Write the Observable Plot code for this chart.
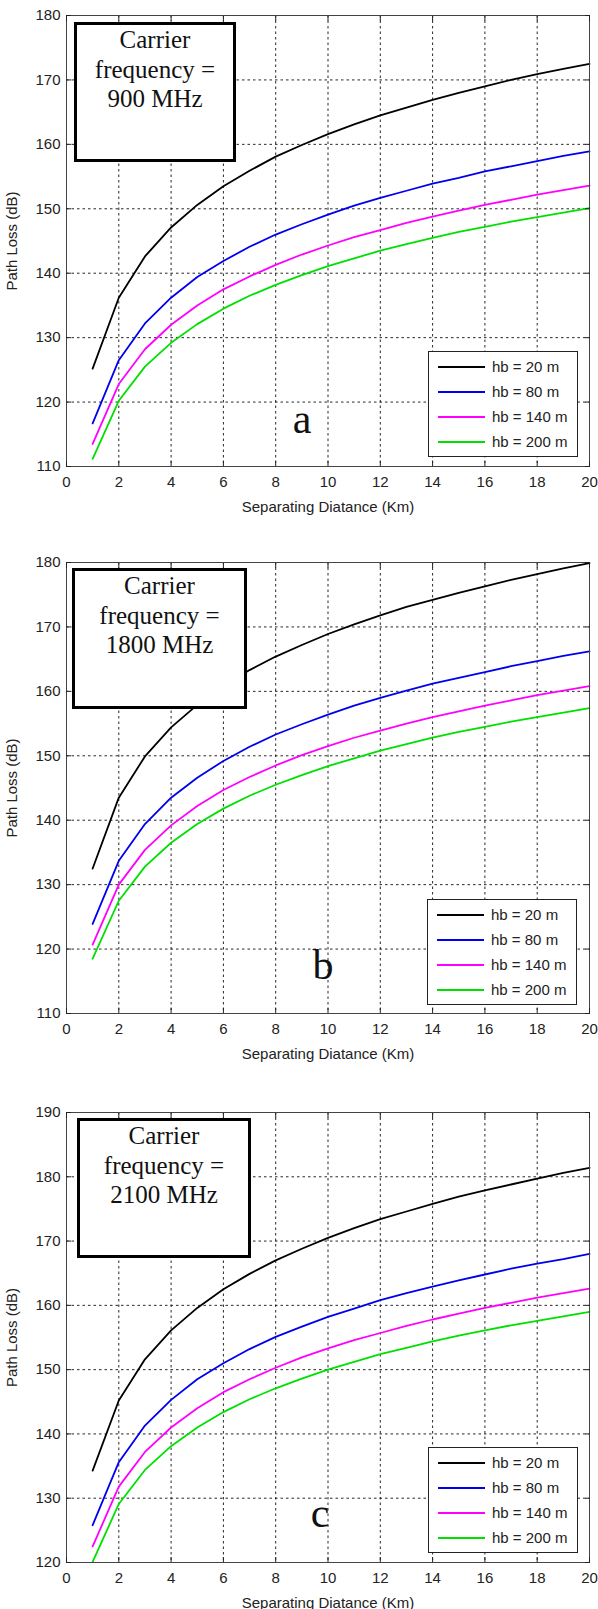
<!DOCTYPE html>
<html><head><meta charset="utf-8">
<script src="https://cdn.jsdelivr.net/npm/d3@7"></script>
<script src="https://cdn.jsdelivr.net/npm/@observablehq/plot@0.6"></script>
<style>
body{margin:0;background:#fff;}
#wrap{position:relative;width:598px;height:1609px;overflow:hidden;background:#fff;}
.panel{position:absolute;left:0;}
.panel svg{overflow:visible;}
.cbox{position:absolute;border:3px solid #000;background:#fff;box-sizing:border-box;font-family:"Liberation Serif","Times New Roman",serif;font-size:25px;line-height:29.5px;text-align:center;color:#111;}
.leg{position:absolute;border:1px solid #222;background:#fff;box-sizing:border-box;font-family:"Liberation Sans",Arial,sans-serif;font-size:15px;color:#222;width:150px;height:106px;}
.leg .row{position:absolute;left:0;width:150px;height:0;}
.leg .sw{position:absolute;left:9px;width:47px;height:2px;top:-1px;}
.leg .lt{position:absolute;left:63px;top:-9px;line-height:18px;white-space:nowrap;}
.tag{position:absolute;font-family:"Liberation Serif","Times New Roman",serif;font-size:42px;line-height:42px;color:#111;transform:translateX(-50%);}
</style>
</head><body><div id="wrap"></div>
<script>
// ---- data ----
const distanceKm = [1,2,3,4,5,6,7,8,9,10,11,12,13,14,15,16,17,18,19,20];
const heightLabels = ["hb = 20 m","hb = 80 m","hb = 140 m","hb = 200 m"];
const lineColors = ["#000000","#0000ee","#ff00ff","#00e000"];
const xTicks = [0,2,4,6,8,10,12,14,16,18,20];
const yTicksAB = [110,120,130,140,150,160,170,180];
const yTicksC = [120,130,140,150,160,170,180,190];
const frequencies = ["900 MHz","1800 MHz","2100 MHz"];
const panelTags = ["a","b","c"];

// 900 MHz
const pl900_hb20  = [125.2,136.2,142.6,147.1,150.6,153.5,155.9,158.1,159.9,161.6,163.1,164.5,165.7,166.9,168.0,169.0,170.0,170.9,171.7,172.5];
const pl900_hb80  = [116.7,126.5,132.2,136.2,139.4,141.9,144.1,146.0,147.6,149.1,150.5,151.7,152.8,153.9,154.8,155.8,156.6,157.4,158.2,158.9];
const pl900_hb140 = [113.5,122.8,128.2,132.0,135.0,137.5,139.5,141.3,142.9,144.3,145.6,146.7,147.8,148.8,149.7,150.6,151.4,152.2,152.9,153.6];
const pl900_hb200 = [111.2,120.2,125.5,129.2,132.1,134.5,136.5,138.2,139.7,141.1,142.3,143.5,144.5,145.5,146.4,147.2,148.0,148.7,149.4,150.1];
// 1800 MHz
const pl1800_hb20  = [132.5,143.5,149.9,154.4,157.9,160.8,163.3,165.4,167.2,168.9,170.4,171.8,173.1,174.2,175.3,176.3,177.3,178.2,179.1,179.9];
const pl1800_hb80  = [123.9,133.7,139.4,143.5,146.6,149.2,151.4,153.3,154.9,156.4,157.8,159.0,160.1,161.2,162.1,163.0,163.9,164.7,165.5,166.2];
const pl1800_hb140 = [120.7,130.0,135.4,139.2,142.2,144.7,146.7,148.5,150.1,151.5,152.8,153.9,155.0,156.0,156.9,157.8,158.6,159.4,160.1,160.8];
const pl1800_hb200 = [118.5,127.5,132.8,136.5,139.4,141.8,143.8,145.5,147.0,148.4,149.6,150.8,151.8,152.8,153.7,154.5,155.3,156.0,156.7,157.4];
// 2100 MHz
const pl2100_hb20  = [134.3,145.2,151.6,156.1,159.6,162.5,164.9,167.0,168.8,170.5,172.0,173.4,174.6,175.8,176.9,177.9,178.8,179.7,180.6,181.4];
const pl2100_hb80  = [125.8,135.6,141.3,145.3,148.5,151.0,153.2,155.1,156.7,158.2,159.5,160.8,161.9,162.9,163.9,164.8,165.7,166.5,167.2,168.0];
const pl2100_hb140 = [122.5,131.8,137.2,141.0,144.0,146.5,148.5,150.3,151.9,153.3,154.6,155.7,156.8,157.8,158.7,159.6,160.4,161.2,161.9,162.6];
const pl2100_hb200 = [120.1,129.1,134.4,138.1,141.0,143.4,145.4,147.1,148.6,150.0,151.2,152.4,153.4,154.4,155.3,156.1,156.9,157.6,158.3,159.0];

// ---- layout ----
const panels = [
  {series:[pl900_hb20,pl900_hb80,pl900_hb140,pl900_hb200], yDomain:[110,180], yTicks:yTicksAB,
   top:0, height:520, mt:15, mb:54,
   box:{left:74,top:22,width:162,height:140}, leg:{left:428,top:351}, tag:{x:302,top:398}},
  {series:[pl1800_hb20,pl1800_hb80,pl1800_hb140,pl1800_hb200], yDomain:[110,180], yTicks:yTicksAB,
   top:520, height:540, mt:42, mb:47,
   box:{left:72,top:568,width:175,height:141}, leg:{left:427,top:899}, tag:{x:323,top:944}},
  {series:[pl2100_hb20,pl2100_hb80,pl2100_hb140,pl2100_hb200], yDomain:[120,190], yTicks:yTicksC,
   top:1060, height:549, mt:52, mb:47,
   box:{left:77,top:1118,width:174,height:140}, leg:{left:428,top:1447}, tag:{x:320,top:1492}}
];

const wrap = document.getElementById("wrap");

panels.forEach((p, k) => {
  const rows = [];
  p.series.forEach((vals, i) => vals.forEach((v, j) => rows.push({d: distanceKm[j], pl: v, hb: heightLabels[i]})));
  const chart = Plot.plot({
    width: 598, height: p.height,
    marginLeft: 66, marginRight: 9, marginTop: p.mt, marginBottom: p.mb,
    style: {fontFamily: "'Liberation Sans', Arial, sans-serif", fontSize: "15px", color: "#222", background: "transparent", overflow: "visible"},
    x: {domain: [0, 20]},
    y: {domain: p.yDomain},
    color: {domain: heightLabels, range: lineColors},
    marks: [
      Plot.gridX(xTicks, {stroke: "#000", strokeOpacity: 0.85, strokeDasharray: "2.5,3"}),
      Plot.gridY(p.yTicks, {stroke: "#000", strokeOpacity: 0.85, strokeDasharray: "2.5,3"}),
      Plot.line(rows, {x: "d", y: "pl", z: "hb", stroke: "hb", strokeWidth: 1.8}),
      Plot.frame({stroke: "#444"}),
      Plot.axisX({ticks: xTicks, tickSize: -5, tickPadding: 15, label: "Separating Diatance (Km)", labelAnchor: "center", labelOffset: 45, labelArrow: "none"}),
      Plot.axisY({ticks: p.yTicks, tickSize: -5, tickPadding: 11, label: "Path Loss (dB)", labelAnchor: "center", labelOffset: 60, labelArrow: "none"}),
      Plot.axisX({anchor: "top", ticks: xTicks, tickSize: -5, tickFormat: () => "", label: null}),
      Plot.axisY({anchor: "right", ticks: p.yTicks, tickSize: -5, tickFormat: () => "", label: null})
    ]
  });
  const holder = document.createElement("div");
  holder.className = "panel";
  holder.style.top = p.top + "px";
  holder.appendChild(chart);
  wrap.appendChild(holder);

  // carrier frequency box
  const box = document.createElement("div");
  box.className = "cbox";
  Object.assign(box.style, {left: p.box.left + "px", top: p.box.top + "px", width: p.box.width + "px", height: p.box.height + "px"});
  box.innerHTML = "Carrier<br>frequency =<br>" + frequencies[k];
  wrap.appendChild(box);

  // legend
  const leg = document.createElement("div");
  leg.className = "leg";
  leg.style.left = p.leg.left + "px";
  leg.style.top = p.leg.top + "px";
  heightLabels.forEach((lab, i) => {
    const r = document.createElement("div");
    r.className = "row";
    r.style.top = (15 + 25 * i) + "px";
    const sw = document.createElement("div");
    sw.className = "sw";
    sw.style.background = lineColors[i];
    const t = document.createElement("div");
    t.className = "lt";
    t.textContent = lab;
    r.appendChild(sw); r.appendChild(t);
    leg.appendChild(r);
  });
  wrap.appendChild(leg);

  // panel tag
  const tag = document.createElement("div");
  tag.className = "tag";
  tag.style.left = p.tag.x + "px";
  tag.style.top = p.tag.top + "px";
  tag.textContent = panelTags[k];
  wrap.appendChild(tag);
});
</script>
</body></html>
